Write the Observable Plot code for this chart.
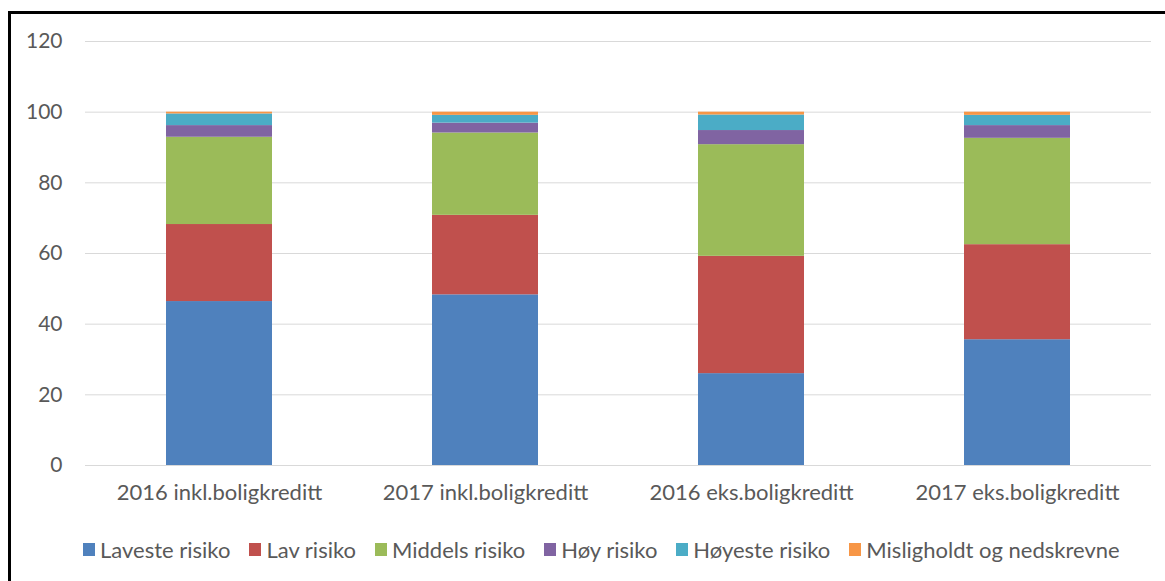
<!DOCTYPE html>
<html><head><meta charset="utf-8">
<script src="https://cdn.jsdelivr.net/npm/d3@7"></script>
<script src="https://cdn.jsdelivr.net/npm/@observablehq/plot@0.6"></script>
<style>
body{margin:0;background:#fff;font-family:Lato, "Open Sans", sans-serif;}
#frame{position:absolute;left:8px;top:11px;width:1180px;height:620px;border:3px solid #000;box-sizing:border-box;pointer-events:none;}
#chart{position:absolute;left:0;top:0;}
#legend{position:absolute;left:83px;top:536px;display:flex;align-items:center;white-space:nowrap;color:#595959;font-size:22px;}
#legend .item{display:flex;align-items:center;margin-right:19px;}
#legend .sw{width:12px;height:13px;margin-right:5px;}
</style></head>
<body>
<div id="chart"></div>
<div id="legend"></div>
<div id="frame"></div>
<script>
const categories = ["2016 inkl.boligkreditt", "2017 inkl.boligkreditt", "2016 eks.boligkreditt", "2017 eks.boligkreditt"];
const series = ["Laveste risiko", "Lav risiko", "Middels risiko", "Høy risiko", "Høyeste risiko", "Misligholdt og nedskrevne"];
const colors = ["#4F81BD", "#C0504D", "#9BBB59", "#8064A2", "#4BACC6", "#F79646"];
const lavesteRisiko = [46.4, 48.3, 26.0, 35.6];
const lavRisiko = [21.8, 22.5, 33.2, 26.9];
const middelsRisiko = [24.7, 23.3, 31.6, 30.1];
const hoyRisiko = [3.3, 2.8, 4.0, 3.6];
const hoyesteRisiko = [3.3, 2.2, 4.4, 2.9];
const misligholdt = [0.5, 0.9, 0.8, 0.9];
const yTicks = [0, 20, 40, 60, 80, 100, 120];

const seriesValues = [lavesteRisiko, lavRisiko, middelsRisiko, hoyRisiko, hoyesteRisiko, misligholdt];
const data = [];
categories.forEach((c, i) => series.forEach((s, j) => data.push({category: c, series: s, value: seriesValues[j][i]})));

const chart = Plot.plot({
  width: 1165,
  height: 520,
  marginLeft: 85,
  marginRight: 14,
  marginTop: 41,
  marginBottom: 55,
  style: {fontFamily: "Lato, 'Open Sans', sans-serif", fontSize: "22px", color: "#595959", background: "transparent"},
  x: {domain: categories, label: null, paddingInner: 0.6, paddingOuter: 0.3, tickSize: 0, tickPadding: 20},
  y: {domain: [0, 120], ticks: yTicks, label: null, tickSize: 0, tickPadding: 23},
  color: {domain: series, range: colors},
  marks: [
    Plot.gridY(yTicks, {stroke: "#d9d9d9", strokeOpacity: 1, strokeWidth: 1}),
    Plot.barY(data, {x: "category", y: "value", fill: "series", order: series}),
    Plot.axisX({tickSize: 0, tickPadding: 19, fill: "#595959", fontSize: 22}),
    Plot.axisY({ticks: yTicks, tickSize: 0, tickPadding: 23, fill: "#595959", fontSize: 21})
  ]
});
document.getElementById("chart").appendChild(chart);

const legend = document.getElementById("legend");
series.forEach((s, i) => {
  const it = document.createElement("div");
  it.className = "item";
  const sw = document.createElement("span");
  sw.className = "sw";
  sw.style.background = colors[i];
  const t = document.createElement("span");
  t.textContent = s;
  it.appendChild(sw); it.appendChild(t);
  legend.appendChild(it);
});
</script>
</body></html>
